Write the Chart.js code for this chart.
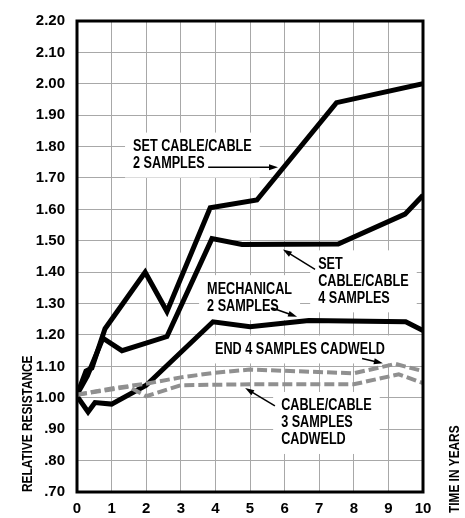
<!DOCTYPE html>
<html>
<head>
<meta charset="utf-8">
<script src="https://cdn.jsdelivr.net/npm/chart.js@4.4.1/dist/chart.umd.min.js"></script>
<style>
  html, body { margin: 0; padding: 0; background: #fff; }
  canvas { display: block; }
</style>
</head>
<body>
<canvas id="chart" width="465" height="518"></canvas>
<script>
// values (years, relative resistance)
const setTwoYears = [0, 0.26, 0.43, 0.81, 1.97, 2.6, 3.85, 5.2, 7.5, 10];
const setTwoValues = [1.01, 1.085, 1.095, 1.22, 1.40, 1.275, 1.605, 1.63, 1.94, 2.00];

const setFourYears = [0, 0.3, 0.75, 1.3, 2.6, 3.9, 4.77, 7.55, 9.48, 10];
const setFourValues = [1.01, 1.07, 1.19, 1.15, 1.195, 1.507, 1.488, 1.49, 1.585, 1.645];

const mechYears = [0, 0.32, 0.52, 1.0, 2.0, 3.93, 5.0, 6.7, 9.5, 10];
const mechValues = [1.005, 0.955, 0.985, 0.98, 1.04, 1.242, 1.226, 1.246, 1.242, 1.214];

const endFourYears = [0, 1, 2, 3, 4, 5, 8, 9.2, 10];
const endFourValues = [1.01, 1.03, 1.045, 1.065, 1.08, 1.09, 1.078, 1.108, 1.085];

const cableThreeYears = [0, 1.5, 2.0, 3.0, 5, 8, 9.3, 10];
const cableThreeValues = [1.01, 1.035, 1.005, 1.04, 1.043, 1.043, 1.075, 1.047];

const xTicks = [0, 1, 2, 3, 4, 5, 6, 7, 8, 9, 10];
const yMin = 0.7, yMax = 2.2;

function pts(xs, ys) {
  return xs.map((x, i) => ({x: x, y: ys[i]}));
}

const labelFont = 'bold 16px "Liberation Sans", Arial, sans-serif';
const squeeze = 0.79; // no narrow face installed, so squeeze the bold one
const tickFont = {family: '"Liberation Sans", Arial, sans-serif', size: 15, weight: 'bold'};

// callouts, placed in data units
const callouts = [
  {lines: ['SET CABLE/CABLE', '2 SAMPLES'], at: [1.62, 1.80], arrow: [[3.79, 1.734], [5.81, 1.734]]},
  {lines: ['SET', 'CABLE/CABLE', '4 SAMPLES'], at: [6.97, 1.425], arrow: [[6.88, 1.409], [5.95, 1.472]]},
  {lines: ['MECHANICAL', '2 SAMPLES'], at: [3.76, 1.346], arrow: [[5.64, 1.286], [6.36, 1.258]]},
  {lines: ['END 4 SAMPLES CADWELD'], at: [3.99, 1.154], arrow: [[8.24, 1.125], [8.84, 1.110]]},
  {lines: ['CABLE/CABLE', '3 SAMPLES', 'CADWELD'], at: [5.9, 0.974], arrow: [[5.72, 0.974], [4.86, 1.031]]}
];

const lineGap = 17;

function narrowText(ctx, text, x, y) {
  ctx.save();
  ctx.translate(x, y);
  ctx.scale(squeeze, 1);
  ctx.fillText(text, 0, 0);
  ctx.restore();
}

const calloutPlugin = {
  id: 'callouts',
  beforeDatasetsDraw(chart) {
    const ctx = chart.ctx, xs = chart.scales.x, ys = chart.scales.y;
    ctx.save();
    ctx.font = labelFont;
    ctx.fillStyle = '#fff';
    callouts.forEach(c => {
      const left = xs.getPixelForValue(c.at[0]);
      const top = ys.getPixelForValue(c.at[1]);
      const w = squeeze * Math.max(...c.lines.map(l => ctx.measureText(l).width));
      ctx.fillRect(left - 8, top - 14, w + 16, (c.lines.length - 1) * lineGap + 28);
    });
    ctx.restore();
  },
  afterDatasetsDraw(chart) {
    const ctx = chart.ctx, xs = chart.scales.x, ys = chart.scales.y;
    const area = chart.chartArea;
    ctx.save();
    // frame
    ctx.strokeStyle = '#000';
    ctx.lineWidth = 3;
    ctx.strokeRect(area.left, area.top, area.right - area.left, area.bottom - area.top);

    ctx.font = labelFont;
    ctx.fillStyle = '#000';
    ctx.textBaseline = 'middle';
    ctx.textAlign = 'left';
    callouts.forEach(c => {
      const left = xs.getPixelForValue(c.at[0]);
      const top = ys.getPixelForValue(c.at[1]);
      c.lines.forEach((l, i) => narrowText(ctx, l, left, top + i * lineGap));

      const x0 = xs.getPixelForValue(c.arrow[0][0]), y0 = ys.getPixelForValue(c.arrow[0][1]);
      const x1 = xs.getPixelForValue(c.arrow[1][0]), y1 = ys.getPixelForValue(c.arrow[1][1]);
      const ang = Math.atan2(y1 - y0, x1 - x0);
      ctx.lineWidth = 1.5;
      ctx.beginPath();
      ctx.moveTo(x0, y0);
      ctx.lineTo(x1 - 6 * Math.cos(ang), y1 - 6 * Math.sin(ang));
      ctx.stroke();
      ctx.beginPath();
      ctx.moveTo(x1, y1);
      ctx.lineTo(x1 - 9 * Math.cos(ang) + 3 * Math.sin(ang), y1 - 9 * Math.sin(ang) - 3 * Math.cos(ang));
      ctx.lineTo(x1 - 9 * Math.cos(ang) - 3 * Math.sin(ang), y1 - 9 * Math.sin(ang) + 3 * Math.cos(ang));
      ctx.closePath();
      ctx.fill();
    });

    // axis titles
    ctx.font = 'bold 15px "Liberation Sans", Arial, sans-serif';
    ctx.save();
    ctx.translate(28, area.bottom);
    ctx.rotate(-Math.PI / 2);
    narrowText(ctx, 'RELATIVE RESISTANCE', 0, 0);
    ctx.restore();
    ctx.save();
    ctx.translate(455, 513);
    ctx.rotate(-Math.PI / 2);
    narrowText(ctx, 'TIME IN YEARS', 0, 0);
    ctx.restore();
    ctx.restore();
  }
};

const blackLine = {borderColor: '#000', borderWidth: 5, pointRadius: 0, fill: false, tension: 0, borderJoinStyle: 'miter'};
const grayLine = {borderColor: '#909090', borderWidth: 4, borderDash: [10, 4], pointRadius: 0, fill: false, tension: 0, borderJoinStyle: 'miter'};

new Chart(document.getElementById('chart'), {
  type: 'line',
  data: {
    datasets: [
      Object.assign({label: 'END 4 SAMPLES CADWELD', data: pts(endFourYears, endFourValues)}, grayLine),
      Object.assign({label: 'CABLE/CABLE 3 SAMPLES CADWELD', data: pts(cableThreeYears, cableThreeValues)}, grayLine),
      Object.assign({label: 'MECHANICAL 2 SAMPLES', data: pts(mechYears, mechValues)}, blackLine),
      Object.assign({label: 'SET CABLE/CABLE 4 SAMPLES', data: pts(setFourYears, setFourValues)}, blackLine),
      Object.assign({label: 'SET CABLE/CABLE 2 SAMPLES', data: pts(setTwoYears, setTwoValues)}, blackLine)
    ]
  },
  options: {
    responsive: false,
    animation: false,
    devicePixelRatio: 1,
    layout: {padding: {top: 16, right: 42, left: 0, bottom: 0}},
    plugins: {
      legend: {display: false},
      tooltip: {enabled: false}
    },
    scales: {
      x: {
        type: 'linear',
        min: 0,
        max: 10,
        afterBuildTicks: s => { s.ticks = xTicks.map(v => ({value: v})); },
        afterFit: s => { s.height = 26; },
        grid: {color: '#a8a8a8', lineWidth: 1, drawTicks: false},
        border: {display: false},
        ticks: {color: '#000', font: tickFont, padding: 8, maxRotation: 0}
      },
      y: {
        min: yMin,
        max: yMax,
        afterFit: s => { s.width = 77; },
        grid: {color: '#a8a8a8', lineWidth: 1, drawTicks: false},
        border: {display: false},
        ticks: {
          stepSize: 0.1,
          color: '#000',
          font: tickFont,
          padding: 12,
          callback: v => v.toFixed(2).replace(/^0/, '')
        }
      }
    }
  },
  plugins: [calloutPlugin]
});
</script>
</body>
</html>
